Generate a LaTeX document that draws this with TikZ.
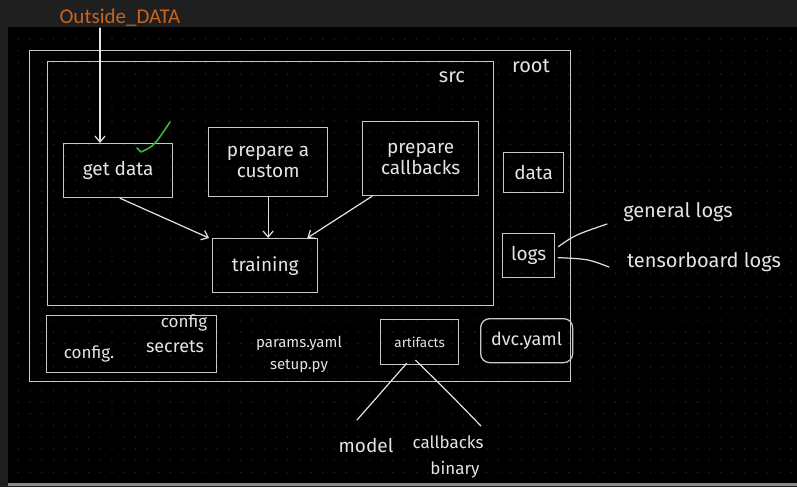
\documentclass[tikz,border=0pt]{standalone}
\usepackage{fontspec}
\setmainfont{Fira Sans}
\newfontfamily\calib{Carlito}
\usetikzlibrary{arrows.meta}
\definecolor{bgband}{HTML}{1F1F1F}
\definecolor{dotc}{HTML}{262626}
\definecolor{ink}{HTML}{E4E4E4}
\definecolor{boxc}{HTML}{C8C8C8}
\definecolor{orng}{HTML}{C8641E}
\definecolor{chk}{HTML}{3CB43C}
\definecolor{bline}{HTML}{8A8A8A}
\begin{document}
\begin{tikzpicture}[x=1pt,y=-1pt,
  box/.style={draw=boxc, line width=1.3pt, inner sep=0pt, anchor=north west, text=ink, align=center, font=\fontsize{19}{21}\selectfont},
  hw/.style={text=ink, font=\fontsize{17}{20}\selectfont, align=center, inner sep=0pt},
  big/.style={hw, font=\fontsize{20}{22}\selectfont},
  conn/.style={draw=ink, line width=1.2pt, line cap=round},
  arr/.style={conn, -{Straight Barb[length=6pt,width=10pt]}}]
\useasboundingbox (0,0) rectangle (797,487);
\fill[bgband] (0,0) rectangle (797,487);
\fill[black] (8,27) rectangle (797,483);
\fill[bline] (8,483) rectangle (797,486);
\foreach \i in {0,...,66} {
  \foreach \j in {0,...,37} {
    \fill[dotc] (18.3+11.71*\i, 39+11.71*\j) circle (0.8pt);
  }
}
% title
\node[text=orng, font=\calib\fontsize{21}{22}\selectfont, inner sep=0pt] (outside) at (120,18) {Outside\_DATA};
% containers
\node[box, minimum width=541, minimum height=331] (root) at (29,50) {};
\node[big] (rootlbl) at (531,66) {root};
\node[box, minimum width=446, minimum height=244] (src) at (47,61) {};
\node[big] (srclbl) at (452,77) {src};
% inner boxes
\node[box, minimum width=109, minimum height=54] (getdata) at (63,143) {get data};
\node[box, minimum width=119, minimum height=69] (custom) at (208,127) {prepare a\\custom};
\node[box, minimum width=116, minimum height=74] (callbacks) at (362,121) {prepare\\callbacks};
\node[box, minimum width=60, minimum height=40] (data) at (503,152) {data};
\node[box, minimum width=52, minimum height=44] (logs) at (502,233) {logs};
\node[box, minimum width=105, minimum height=54] (training) at (212,238) {training};
\node[box, minimum width=170, minimum height=57] (config) at (46,315) {};
\node[hw] (configtxt) at (89,354) {config.};
\node[hw] (configs) at (184,323) {config};
\node[hw, font=\fontsize{18}{20}\selectfont] (secrets) at (175,347) {secrets};
\node[hw, font=\fontsize{15}{22}\selectfont] (params) at (299,354) {params.yaml\\setup.py};
\node[box, minimum width=78, minimum height=45, font=\fontsize{13.5}{16}\selectfont] (artifacts) at (380,319) {artifacts};
\node[box, minimum width=92, minimum height=44, rounded corners=9pt, font=\fontsize{18}{20}\selectfont] (dvc) at (480,318) {dvc.yaml};
% labels outside
\node[big] (general) at (678,212) {general logs};
\node[big] (tensorboard) at (704,262) {tensorboard logs};
\node[hw, font=\fontsize{19}{20}\selectfont] (model) at (366,445) {model};
\node[hw] (cbs) at (448,442) {callbacks};
\node[hw] (binary) at (455,470) {binary};
% free ends
\coordinate (od) at (100,28);
\coordinate (gl) at (607,224);
\coordinate (tl) at (609,267);
\coordinate (mend) at (357,420);
\coordinate (cend) at (481,426);
% connectors
\draw[arr] (od) -- (od |- getdata.north);
\draw[arr] ([xshift=2]getdata.south) -- ([xshift=-3]training.north west);
\draw[arr] (custom.south) -- (custom.south |- training.north);
\draw[arr] ([xshift=10]callbacks.south west) -- ([xshift=-11]training.north east);
\draw[conn] ([xshift=3,yshift=9]logs.east) .. controls (575,235) .. (gl);
\draw[conn] ([xshift=3,yshift=-2]logs.east) .. controls (588,259) .. (tl);
\draw[conn] ([xshift=-13,yshift=2]artifacts.south) -- (mend);
\draw[conn] ([xshift=-4,yshift=5]artifacts.south) .. controls (448,392) .. (cend);
% check mark
\draw[chk, line width=1.6pt, line cap=round, line join=round] (137,148) -- (141,152) .. controls (154,146) .. (170,122);
\end{tikzpicture}
\end{document}
